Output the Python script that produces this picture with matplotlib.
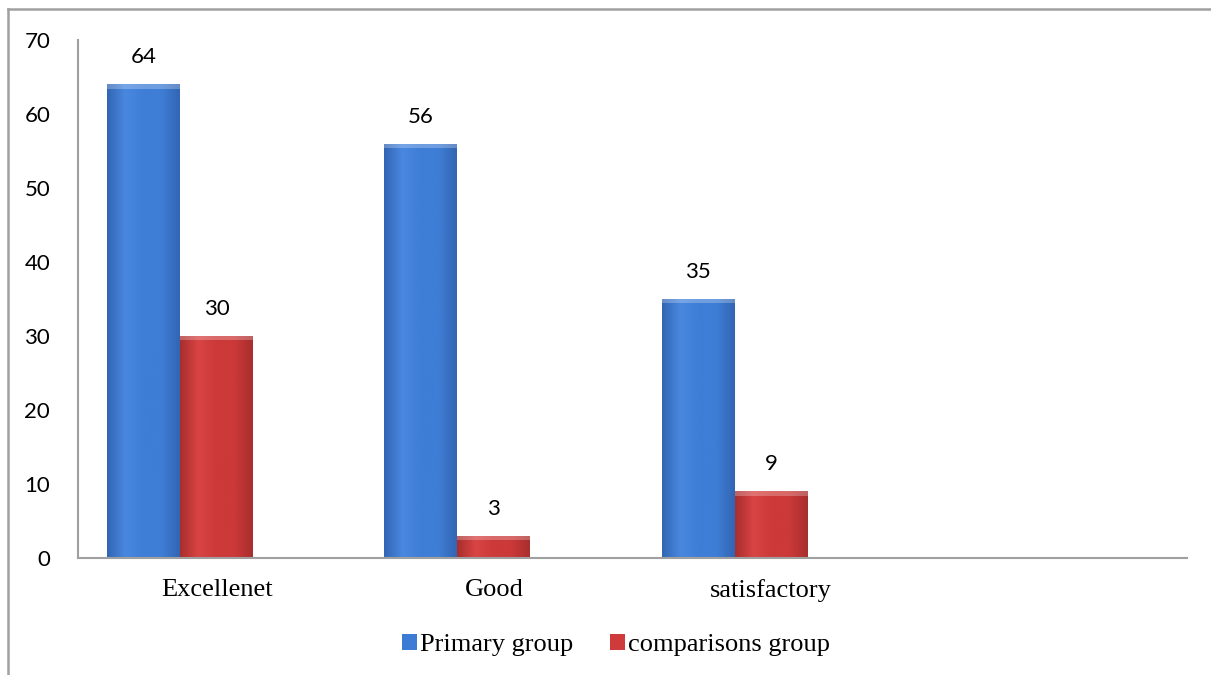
import numpy as np
import matplotlib
matplotlib.use("Agg")
import matplotlib.pyplot as plt
from matplotlib.lines import Line2D
from matplotlib.colors import LinearSegmentedColormap

categories = ['Excellenet', 'Good', 'satisfactory', '']
primary = [64, 56, 35]
comparisons = [30, 3, 9]
series_names = ['Primary group', 'comparisons group']

blue = '#3d7cd4'
red = '#cf3a3a'

fig = plt.figure(figsize=(12.11, 6.75), dpi=100)
ax = fig.add_axes([78 / 1211, 1 - 558 / 675, (1187 - 78) / 1211, (558 - 40) / 675])

x = np.arange(len(categories))
w = 0.263
# third (empty) series slot on the right, so the pair sits left of centre
b1 = ax.bar(x[:3] - w, primary, w, color=blue, label=series_names[0], zorder=2)
b2 = ax.bar(x[:3], comparisons, w, color=red, label=series_names[1], zorder=2)


def shade(bars, dark, mid, light):
    cmap = LinearSegmentedColormap.from_list('g', [dark, light, mid, mid, dark])
    grad = np.linspace(0, 1, 64).reshape(1, -1)
    for p in bars:
        x0, y0 = p.get_x(), p.get_y()
        x1, y1 = x0 + p.get_width(), y0 + p.get_height()
        im = ax.imshow(grad, cmap=cmap, aspect='auto', extent=(x0, x1, y0, y1),
                       zorder=2.5, interpolation='bicubic')
        im.set_clip_path(p)
        # lighter bevel on top
        ax.fill_between([x0, x1], y1 - 0.6, y1, color='white', alpha=0.25,
                        zorder=2.6, linewidth=0)


shade(b1, '#3266b4', '#3f7ed6', '#4a88e0')
shade(b2, '#a92e2e', '#cc3939', '#d94444')

for bars, vals in ((b1, primary), (b2, comparisons)):
    for p, v in zip(bars, vals):
        ax.annotate(str(v), (p.get_x() + p.get_width() / 2, v), xytext=(0, 19.5),
                    textcoords='offset points', ha='center', va='center',
                    fontsize=16, family='Lato', color='black')

ax.set_xlim(-0.5, len(categories) - 0.5)
ax.set_ylim(0, 70)
ax.set_yticks(range(0, 71, 10))
ax.set_xticks(x)
ax.set_xticklabels(categories, family='Liberation Serif', fontsize=19)
ax.tick_params(axis='x', length=0, pad=15)
ax.tick_params(axis='y', length=0, pad=20, labelsize=16)
for lbl in ax.get_yticklabels():
    lbl.set_family('Lato')

for s in ['top', 'right']:
    ax.spines[s].set_visible(False)
for s in ['left', 'bottom']:
    ax.spines[s].set_color('#a0a0a0')
    ax.spines[s].set_linewidth(1.5)

leg = fig.legend(handles=[b1, b2], loc='center', bbox_to_anchor=(616 / 1211, 1 - 645 / 675),
                 ncol=2, frameon=False, prop={'family': 'Liberation Serif', 'size': 19},
                 handlelength=0.57, handleheight=0.57, handletextpad=0.12, columnspacing=1.4)

# outer chart frame
fig.add_artist(Line2D([8 / 1211, 8 / 1211], [0, 1 - 9 / 675], color='#a0a0a0', lw=1.8))
fig.add_artist(Line2D([8 / 1211, 1], [1 - 9 / 675, 1 - 9 / 675], color='#a0a0a0', lw=1.8))

fig.savefig('out.png', dpi=100)
